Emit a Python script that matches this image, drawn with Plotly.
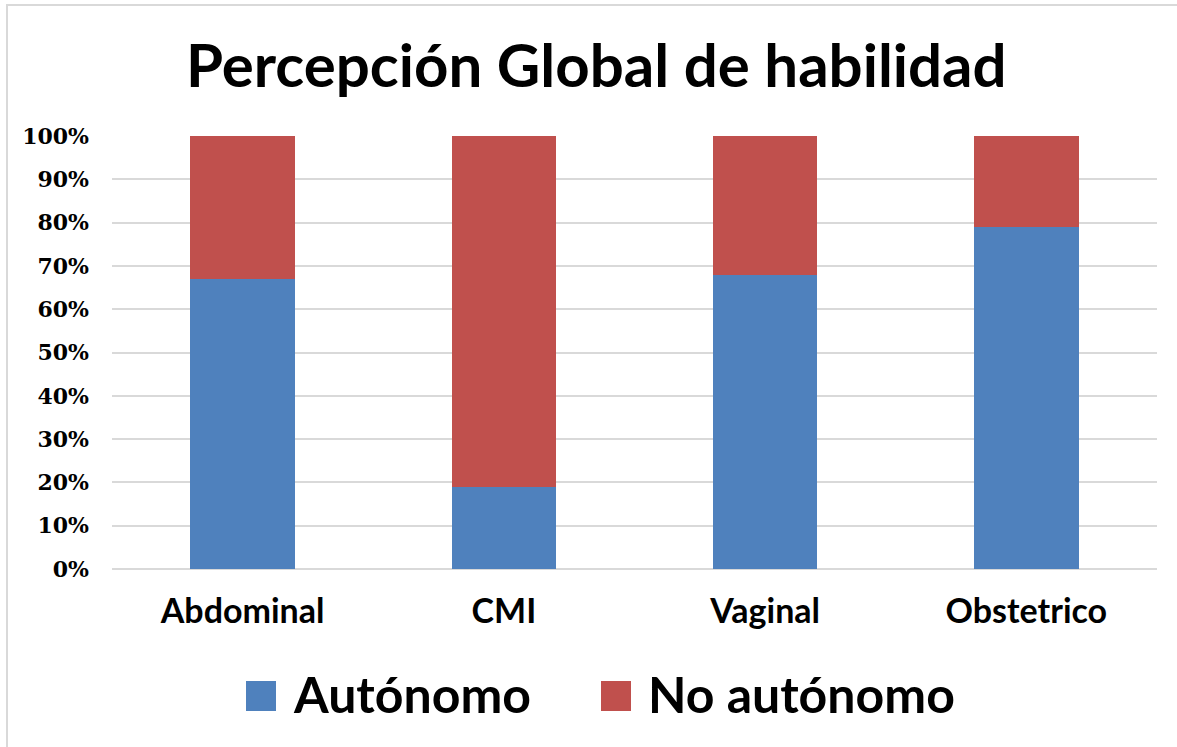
import plotly.graph_objects as go

categories = ["Abdominal", "CMI", "Vaginal", "Obstetrico"]
autonomo = [67, 19, 68, 79]
no_autonomo = [33, 81, 32, 21]
series_names = ["Autónomo", "No autónomo"]
colors = ["#4f81bd", "#c0504d"]
y_ticks = [0, 10, 20, 30, 40, 50, 60, 70, 80, 90, 100]
y_tick_labels = [f"{v}%" for v in y_ticks]
title_text = "Percepción Global de habilidad"

W, H = 1177, 747
# plot area in screen pixels: x 112..1157, y 136..569
L, T = 112, 136
R = W - 1157
B = H - 569
pw, ph = W - L - R, H - T - B


def px(x):
    return (x - L) / pw


def py(y):
    return (H - B - y) / ph


fig = go.Figure()
for name, vals, col in zip(series_names, [autonomo, no_autonomo], colors):
    fig.add_trace(go.Bar(x=categories, y=vals, name=name, marker_color=col,
                         marker_line_width=0, showlegend=False))

fig.update_layout(
    width=W, height=H,
    barmode="stack", bargap=0.6,
    margin=dict(l=L, r=R, t=T, b=B, pad=0),
    paper_bgcolor="white", plot_bgcolor="white",
    showlegend=False,
)
fig.update_yaxes(range=[0, 100], tickvals=y_ticks, ticktext=y_tick_labels,
                 showgrid=True, gridcolor="#d9d9d9", gridwidth=2,
                 zeroline=True, zerolinecolor="#d9d9d9", zerolinewidth=2,
                 showline=False, ticks="", ticklabelstandoff=22,
                 tickfont=dict(family="DejaVu Serif", size=22, color="black", weight="bold"))
fig.update_xaxes(showline=False, ticks="", ticklabelstandoff=19,
                 tickfont=dict(family="Lato", size=34, color="black", weight="bold"))

# Title
fig.add_annotation(text=title_text, xref="paper", yref="paper",
                   x=px(596), y=py(64), xanchor="center", yanchor="middle",
                   showarrow=False,
                   font=dict(family="Lato", size=60, color="black", weight="bold"))

# Manual legend
legend_items = [(246, 291), (601, 646)]
for (sx, tx), name, col in zip(legend_items, series_names, colors):
    fig.add_shape(type="rect", xref="paper", yref="paper",
                  x0=px(sx), x1=px(sx + 30), y0=py(711), y1=py(681),
                  fillcolor=col, line_width=0)
    fig.add_annotation(text=name, xref="paper", yref="paper",
                       x=px(tx), y=py(694), xanchor="left", yanchor="middle",
                       showarrow=False,
                       font=dict(family="Lato", size=50, color="black", weight="bold"))

# Outer border (top and left)
fig.add_shape(type="line", xref="paper", yref="paper",
              x0=px(6), x1=px(W), y0=py(5), y1=py(5),
              line=dict(color="#d9d9d9", width=2))
fig.add_shape(type="line", xref="paper", yref="paper",
              x0=px(7), x1=px(7), y0=py(5), y1=py(H),
              line=dict(color="#d9d9d9", width=2))

fig.write_html("out.html",
               config={"displayModeBar": False},
               post_script="document.body.style.margin='0';document.body.style.overflow='hidden';")
